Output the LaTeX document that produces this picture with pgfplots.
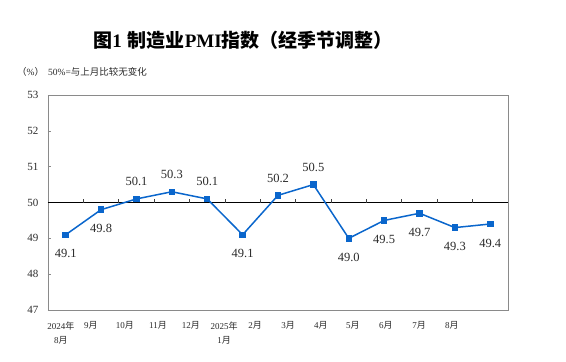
\documentclass[border=0pt]{standalone}
\usepackage{fontspec}
\setmainfont{Liberation Serif}
\newfontfamily\cjk{Noto Sans CJK SC}
\usepackage{pgfplots}
\pgfplotsset{compat=1.18}
\definecolor{pmiblue}{HTML}{0A66CC}
\definecolor{framegray}{HTML}{8A8A8A}
\definecolor{labelgray}{HTML}{2A2A2A}
\begin{document}
\begin{tikzpicture}
\useasboundingbox (0pt,0pt) rectangle (566pt,362pt);
\node[font=\fontsize{19}{21}\selectfont\bfseries] at (243pt,322pt) {{\cjk 图}1\hspace{6pt}{\cjk 制造业}PMI{\cjk 指数（经季节调整）}};
\node[anchor=west, font=\fontsize{9.5}{11}\selectfont, text=labelgray, inner sep=0pt] at (17pt,290pt) {{\cjk （}\%{\cjk ）}\hspace{4pt}50\%={\cjk 与上月比较无变化}};
\begin{axis}[
  at={(48pt,52pt)}, anchor=south west,
  scale only axis, width=460pt, height=215pt,
  xmin=-0.5, xmax=12.5, ymin=47, ymax=53,
  ytick={47,48,49,50,51,52,53},
  ytick pos=left, tick align=inside,
  major tick length=2.5pt,
  axis line style={framegray, line width=0.9pt},
  tick style={framegray, line width=0.6pt},
  xtick={-0.133,0.715,1.676,2.609,3.541,4.474,5.350,6.283,7.215,8.119,9.052,9.985,10.917},
  xticklabels={{2024{\cjk 年}\\8{\cjk 月}},{9{\cjk 月}},{10{\cjk 月}},{11{\cjk 月}},{12{\cjk 月}},{2025{\cjk 年}\\1{\cjk 月}},{2{\cjk 月}},{3{\cjk 月}},{4{\cjk 月}},{5{\cjk 月}},{6{\cjk 月}},{7{\cjk 月}},{8{\cjk 月}}},
  x tick style={draw=none},
  xticklabel style={font=\fontsize{9}{14}\selectfont, align=center, yshift=-8pt, text=labelgray, anchor=north},
  yticklabel style={font=\fontsize{11}{12}\selectfont, xshift=-6pt, text=labelgray},
  /pgf/number format/assume math mode=true,
  clip=false,
]
\draw[black, line width=0.8pt] (axis cs:-0.5,50) -- (axis cs:12.5,50);
\pgfplotsinvokeforeach{0,...,11}{
  \draw[black!75, line width=0.7pt] (axis cs:#1+0.5,50) -- ([yshift=3.5pt]axis cs:#1+0.5,50);
}
\addplot[pmiblue, line width=1.5pt, mark=square*, mark size=2.5pt, mark options={solid}] table {
x y
0 49.1
1 49.8
2 50.1
3 50.3
4 50.1
5 49.1
6 50.2
7 50.5
8 49.0
9 49.5
10 49.7
11 49.3
12 49.4
};
\addplot[draw=none, mark=none, nodes near coords, point meta=explicit symbolic,
  nodes near coords style={anchor=center, yshift=17pt, text=labelgray, font=\fontsize{12.5}{13}\selectfont}]
  table[meta=label] {
x y label
2 50.1 50.1
3 50.3 50.3
4 50.1 50.1
6 50.2 50.2
7 50.5 50.5
};
\addplot[draw=none, mark=none, nodes near coords, point meta=explicit symbolic,
  nodes near coords style={anchor=center, yshift=-19pt, text=labelgray, font=\fontsize{12.5}{13}\selectfont}]
  table[meta=label] {
x y label
0 49.1 49.1
1 49.8 49.8
5 49.1 49.1
8 49.0 49.0
9 49.5 49.5
10 49.7 49.7
11 49.3 49.3
12 49.4 49.4
};
\end{axis}
\end{tikzpicture}
\end{document}
